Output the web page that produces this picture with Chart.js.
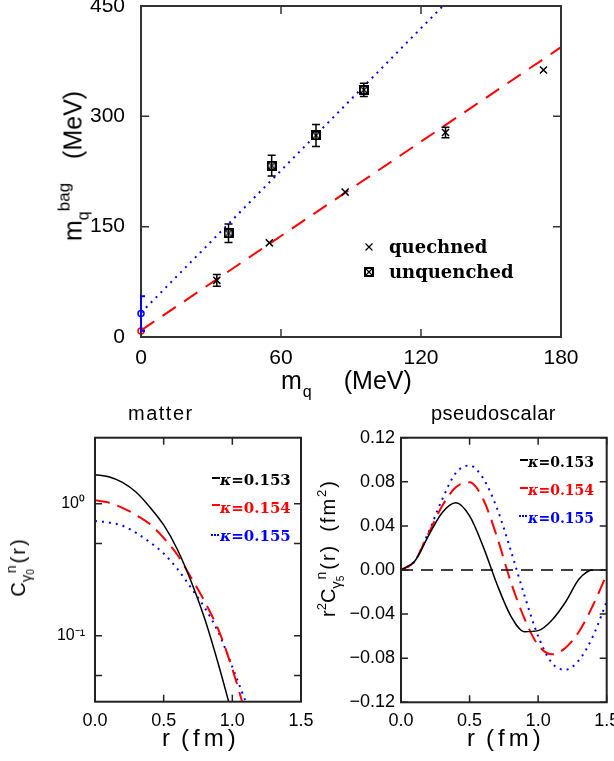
<!DOCTYPE html>
<html lang="en">
<head>
<meta charset="UTF-8">
<meta name="viewport" content="width=device-width, initial-scale=1.0">
<title>Bag quark mass and correlators</title>
<script src="https://cdn.jsdelivr.net/npm/chart.js@4.4.1/dist/chart.umd.min.js"></script>
<style>
    * { box-sizing: border-box; }
    body {
        margin: 0;
        width: 614px;
        height: 761px;
        overflow: hidden;
        position: relative;
        background: #fff;
        color: #000;
        font-family: "Liberation Sans", Arial, sans-serif;
    }
    canvas { position: absolute; }
    .t { position: absolute; white-space: nowrap; line-height: 1; }
    .rot { transform: translate(-50%, -50%) rotate(-90deg); }
    .s { position: relative; }
    .leg {
        position: absolute;
        white-space: nowrap;
        line-height: 1;
        font-family: "DejaVu Serif", serif;
        font-weight: bold;
    }
    .leg i { font-style: italic; }
    .smp { position: absolute; width: 8px; height: 0; }
</style>
</head>
<body>

<canvas id="bag" width="614" height="420" style="left:0;top:-20px"></canvas>
<canvas id="matter" width="330" height="341" style="left:0;top:420px"></canvas>
<canvas id="pseudo" width="309" height="341" style="left:305px;top:420px"></canvas>

<!-- top panel labels -->
<div class="t rot" style="left:73px;top:166px;font-size:25px">m<span class="s" style="font-size:16px;top:7px">q</span><span class="s" style="font-size:17px;top:-12px">bag</span><span style="margin-left:24px">(MeV)</span></div>
<div class="t" style="left:281px;top:368px;font-size:25px">m<span class="s" style="font-size:16px;top:8px;margin-left:1px">q</span><span style="margin-left:32px">(MeV)</span></div>
<canvas id="symX" width="10" height="10" style="left:364px;top:242px"></canvas>
<canvas id="symB" width="10" height="10" style="left:364px;top:267px"></canvas>
<div class="leg" style="left:389px;top:238px;font-size:18px">quechned</div>
<div class="leg" style="left:389px;top:263px;font-size:18px">unquenched</div>

<!-- bottom panel labels -->
<div class="t" style="left:128px;top:403px;font-size:20px;letter-spacing:1.5px">matter</div>
<div class="t" style="left:431px;top:403px;font-size:20px;letter-spacing:0.5px">pseudoscalar</div>
<div class="t" style="left:162px;top:726px;font-size:24px">r<span style="margin-left:11px;letter-spacing:4px">(fm)</span></div>
<div class="t" style="left:467px;top:726px;font-size:24px">r<span style="margin-left:11px;letter-spacing:4px">(fm)</span></div>
<div class="t rot" style="left:18px;top:567px;font-size:20px">C<span class="s" style="font-size:15px;top:6px">γ<span class="s" style="font-size:10px;top:3px">0</span></span><span class="s" style="font-size:14px;top:-9px;margin-left:-4px">n</span><span style="margin-left:2px;letter-spacing:2px">(r)</span></div>
<div class="t rot" style="left:328px;top:548px;font-size:20px">r<span class="s" style="font-size:13px;top:-9px">2</span>C<span class="s" style="font-size:15px;top:6px">γ<span class="s" style="font-size:10px;top:3px">5</span></span><span class="s" style="font-size:14px;top:-9px;margin-left:-4px">n</span><span style="margin-left:2px;letter-spacing:2px">(r)</span><span style="margin-left:12px;letter-spacing:2px">(fm<span class="s" style="font-size:13px;top:-9px">2</span>)</span></div>

<div class="smp" style="left:212px;top:477px;border-top:2px solid #000"></div>
<div class="smp" style="left:212px;top:504px;border-top:2px solid #ff0000"></div>
<div class="smp" style="left:211px;top:534px;border-top:2px dotted #0000ff"></div>
<div class="leg" style="left:220px;top:473px;font-size:15px;color:#000"><i>κ</i>=0.153</div>
<div class="leg" style="left:220px;top:501px;font-size:15px;color:#ff0000"><i>κ</i>=0.154</div>
<div class="leg" style="left:220px;top:529px;font-size:15px;color:#0000ff"><i>κ</i>=0.155</div>

<div class="smp" style="left:520px;top:459px;border-top:2px solid #000"></div>
<div class="smp" style="left:520px;top:487px;border-top:2px solid #ff0000"></div>
<div class="smp" style="left:519px;top:515px;border-top:2px dotted #0000ff"></div>
<div class="leg" style="left:528px;top:455px;font-size:14px;color:#000"><i>κ</i>=0.153</div>
<div class="leg" style="left:528px;top:483px;font-size:14px;color:#ff0000"><i>κ</i>=0.154</div>
<div class="leg" style="left:528px;top:511px;font-size:14px;color:#0000ff"><i>κ</i>=0.155</div>

<script>
    // top panel: bag quark mass against quark mass (MeV)
    const quenchedMq = [32.5, 55, 87.5, 130.5, 172.5];
    const quenchedBag = [77, 128, 197, 278, 363];
    const quenchedErr = [8, 0, 0, 7, 0];
    const unquenchedMq = [37.5, 56, 75, 95.5];
    const unquenchedBag = [141, 233, 274, 336];
    const unquenchedErr = [12.5, 14, 15, 9];
    const chiralMq = [0];
    const chiralQuenchedBag = [8];
    const chiralUnquenchedBag = [32];
    const chiralUnquenchedErr = [23.5];
    const fitQuenchedMq = [0, 180];
    const fitQuenchedBag = [9, 394];
    const fitUnquenchedMq = [0, 130];
    const fitUnquenchedBag = [33, 452];

    // bottom left: matter correlator (log scale)
    const rMatter = [0, 0.1, 0.2, 0.3, 0.4, 0.5, 0.6, 0.7, 0.8, 0.9, 1.0, 1.1];
    const matter153 = [1.66, 1.60, 1.45, 1.22, 0.94, 0.69, 0.45, 0.257, 0.133, 0.060, 0.025];
    const matter154 = [1.06, 1.02, 0.93, 0.82, 0.70, 0.55, 0.41, 0.275, 0.18, 0.11, 0.056, 0.025];
    const matter155 = [0.74, 0.72, 0.68, 0.60, 0.51, 0.42, 0.32, 0.23, 0.162, 0.105, 0.058, 0.031];
    const matterTicks = [0.05, 0.1, 0.5, 1];

    // bottom right: pseudoscalar r^2 C(r)
    const rPseudo = [0, 0.1, 0.2, 0.3, 0.4, 0.5, 0.6, 0.7, 0.8, 0.9, 1.0, 1.1, 1.2, 1.3, 1.4, 1.5];
    const pseudo153 = [0, 0.008, 0.031, 0.052, 0.061, 0.049, 0.021, -0.013, -0.0415, -0.056, -0.055, -0.0455, -0.029, -0.008, 0, 0];
    const pseudo154 = [0, 0.008, 0.033, 0.058, 0.075, 0.0795, 0.064, 0.030, -0.0105, -0.044, -0.068, -0.0765, -0.0705, -0.0555, -0.032, -0.004];
    const pseudo155 = [0, 0.008, 0.034, 0.064, 0.088, 0.0948, 0.083, 0.056, 0.018, -0.023, -0.060, -0.0843, -0.0905, -0.0815, -0.060, -0.0287];
    const zeroR = [0, 1.5];
    const zeroV = [0, 0];

    function pts(xs, ys) {
        return ys.map((y, i) => ({ x: xs[i], y: y }));
    }

    function boxCross() {
        const c = document.createElement('canvas');
        c.width = 10; c.height = 10;
        const g = c.getContext('2d');
        g.fillStyle = '#000'; g.fillRect(0, 0, 10, 10);
        g.fillStyle = '#fff'; g.fillRect(2, 2, 6, 6);
        g.strokeStyle = '#000'; g.lineWidth = 1.2;
        g.beginPath();
        g.moveTo(2, 2); g.lineTo(8, 8);
        g.moveTo(8, 2); g.lineTo(2, 8);
        g.stroke();
        return c;
    }

    // legend symbols
    (function () {
        const g = document.getElementById('symX').getContext('2d');
        g.strokeStyle = '#000'; g.lineWidth = 1.2;
        g.beginPath();
        g.moveTo(1.5, 1.5); g.lineTo(8.5, 8.5);
        g.moveTo(8.5, 1.5); g.lineTo(1.5, 8.5);
        g.stroke();
        document.getElementById('symB').getContext('2d').drawImage(boxCross(), 0, 0);
    })();

    // frame with inward ticks on four sides, then error bars
    const panelFrame = {
        id: 'panelFrame',
        afterDraw(chart, args, opts) {
            const ctx = chart.ctx, a = chart.chartArea;
            const sx = chart.scales.x, sy = chart.scales.y;
            const len = opts.len || 8;
            ctx.save();
            ctx.strokeStyle = opts.color || '#222';
            ctx.lineWidth = 1.5;
            ctx.beginPath();
            sx.ticks.forEach(t => {
                const p = sx.getPixelForValue(t.value);
                ctx.moveTo(p, a.bottom); ctx.lineTo(p, a.bottom - len);
                ctx.moveTo(p, a.top); ctx.lineTo(p, a.top + len);
            });
            sy.ticks.forEach(t => {
                const p = sy.getPixelForValue(t.value);
                ctx.moveTo(a.left, p); ctx.lineTo(a.left + len, p);
                ctx.moveTo(a.right, p); ctx.lineTo(a.right - len, p);
            });
            ctx.stroke();
            ctx.lineWidth = 2;
            ctx.strokeRect(a.left, a.top, a.right - a.left, a.bottom - a.top);

            ctx.beginPath();
            ctx.rect(a.left - 1, a.top, a.right - a.left + 2, a.bottom - a.top);
            ctx.clip();
            chart.data.datasets.forEach(ds => {
                if (!ds.errs) return;
                ctx.strokeStyle = ds.borderColor;
                ctx.lineWidth = ds.errWidth || 1.5;
                ds.data.forEach((d, j) => {
                    const e = ds.errs[j];
                    if (!e) return;
                    const x = sx.getPixelForValue(d.x);
                    const y1 = sy.getPixelForValue(d.y + e);
                    const y2 = sy.getPixelForValue(d.y - e);
                    ctx.beginPath();
                    ctx.moveTo(x, y1); ctx.lineTo(x, y2);
                    ctx.moveTo(x - 4, y1); ctx.lineTo(x + 4, y1);
                    ctx.moveTo(x - 4, y2); ctx.lineTo(x + 4, y2);
                    ctx.stroke();
                });
            });
            ctx.restore();
        }
    };

    function xAxis(o) {
        return Object.assign({
            type: 'linear',
            grid: { display: false, drawTicks: false },
            border: { display: false },
            ticks: {
                color: '#000', autoSkip: false, maxRotation: 0,
                padding: o.pad, stepSize: o.step,
                font: { family: 'Liberation Sans', size: o.size }
            },
            afterFit(s) { s.height = o.h; s.paddingLeft = 0; s.paddingRight = 0; }
        }, o.extra || {});
    }

    function yAxis(o) {
        return Object.assign({
            type: 'linear',
            grid: { display: false, drawTicks: false },
            border: { display: false },
            ticks: {
                color: '#000', autoSkip: false,
                padding: o.pad, stepSize: o.step,
                font: { family: 'Liberation Sans', size: o.size }
            },
            afterFit(s) { s.width = o.w; s.paddingTop = 0; s.paddingBottom = 0; }
        }, o.extra || {});
    }

    const common = {
        responsive: false,
        animation: false,
        plugins: { legend: { display: false }, tooltip: { enabled: false } }
    };

    new Chart(document.getElementById('bag'), {
        type: 'line',
        data: {
            datasets: [
                { data: pts(fitUnquenchedMq, fitUnquenchedBag), borderColor: '#0000ff', borderWidth: 2, borderDash: [2, 5], pointRadius: 0, order: 5 },
                { data: pts(fitQuenchedMq, fitQuenchedBag), borderColor: '#ff0000', borderWidth: 2, borderDash: [16, 10], pointRadius: 0, order: 5 },
                { data: pts(quenchedMq, quenchedBag), errs: quenchedErr, showLine: false, pointStyle: 'crossRot', pointRadius: 5, pointBorderWidth: 1.5, borderColor: '#000', order: 1 },
                { data: pts(unquenchedMq, unquenchedBag), errs: unquenchedErr, showLine: false, pointStyle: boxCross(), pointRadius: 5, borderColor: '#000', order: 1 },
                { data: pts(chiralMq, chiralUnquenchedBag), errs: chiralUnquenchedErr, errWidth: 2, showLine: false, pointStyle: 'circle', pointRadius: 3, pointBorderWidth: 1.5, borderColor: '#0000ff', pointBackgroundColor: 'rgba(0,0,0,0)', clip: false, order: 1 },
                { data: pts(chiralMq, chiralQuenchedBag), showLine: false, pointStyle: 'circle', pointRadius: 3, pointBorderWidth: 1.5, borderColor: '#ff0000', pointBackgroundColor: 'rgba(0,0,0,0)', clip: false, order: 1 }
            ]
        },
        options: Object.assign({}, common, {
            layout: { padding: { left: 0, top: 26, right: 53, bottom: 0 } },
            plugins: Object.assign({}, common.plugins, { panelFrame: { len: 8, color: '#333' } }),
            scales: {
                x: xAxis({ size: 21, pad: 9, step: 60, h: 63, extra: { min: 0, max: 180 } }),
                y: yAxis({ size: 21, pad: 16, step: 150, w: 141, extra: { min: 0, max: 450 } })
            }
        }),
        plugins: [panelFrame]
    });

    const rLabel = v => v.toFixed(1);

    new Chart(document.getElementById('matter'), {
        type: 'line',
        data: {
            datasets: [
                { data: pts(rMatter, matter153), borderColor: '#000', borderWidth: 1.5, pointRadius: 0, cubicInterpolationMode: 'monotone' },
                { data: pts(rMatter, matter154), borderColor: '#ff0000', borderWidth: 2, borderDash: [15, 8], pointRadius: 0, cubicInterpolationMode: 'monotone' },
                { data: pts(rMatter, matter155), borderColor: '#0000ff', borderWidth: 2, borderDash: [2, 5], pointRadius: 0, cubicInterpolationMode: 'monotone' }
            ]
        },
        options: Object.assign({}, common, {
            layout: { padding: { left: 0, top: 17.7, right: 29, bottom: 0 } },
            plugins: Object.assign({}, common.plugins, { panelFrame: { len: 7, color: '#222' } }),
            scales: {
                x: xAxis({ size: 18, pad: 9, step: 0.5, h: 59.3, extra: { min: 0, max: 1.5 } }),
                y: yAxis({ size: 16, pad: 10, w: 95, extra: {
                    type: 'logarithmic', min: 0.0316, max: 3.162,
                    afterBuildTicks(s) { s.ticks = matterTicks.map(v => ({ value: v })); }
                } })
            }
        }),
        plugins: [panelFrame]
    });

    const matterChart = Chart.getChart('matter');
    matterChart.options.scales.x.ticks.callback = rLabel;
    matterChart.options.scales.y.ticks.callback = v => v === 1 ? '10\u2070' : (Math.abs(v - 0.1) < 1e-9 ? '10\u207b\u00b9' : '');
    matterChart.update();

    new Chart(document.getElementById('pseudo'), {
        type: 'line',
        data: {
            datasets: [
                { data: pts(zeroR, zeroV), borderColor: '#000', borderWidth: 1.5, borderDash: [12, 8], pointRadius: 0 },
                { data: pts(rPseudo, pseudo153), borderColor: '#000', borderWidth: 1.5, pointRadius: 0, cubicInterpolationMode: 'monotone' },
                { data: pts(rPseudo, pseudo154), borderColor: '#ff0000', borderWidth: 2, borderDash: [15, 8], pointRadius: 0, cubicInterpolationMode: 'monotone' },
                { data: pts(rPseudo, pseudo155), borderColor: '#0000ff', borderWidth: 2, borderDash: [2, 5], pointRadius: 0, cubicInterpolationMode: 'monotone' }
            ]
        },
        options: Object.assign({}, common, {
            layout: { padding: { left: 0, top: 17.7, right: 7.3, bottom: 0 } },
            plugins: Object.assign({}, common.plugins, { panelFrame: { len: 7, color: '#222' } }),
            scales: {
                x: xAxis({ size: 18, pad: 8, step: 0.5, h: 58.7, extra: { min: 0, max: 1.5 } }),
                y: yAxis({ size: 18, pad: 6, step: 0.04, w: 96, extra: { min: -0.12, max: 0.12 } })
            }
        }),
        plugins: [panelFrame]
    });

    const pseudoChart = Chart.getChart('pseudo');
    pseudoChart.options.scales.x.ticks.callback = rLabel;
    pseudoChart.options.scales.y.ticks.callback = v => (Math.abs(v) < 1e-9 ? '0.00' : (v < 0 ? '\u2212' : '') + Math.abs(v).toFixed(2));
    pseudoChart.update();
</script>
</body>
</html>
